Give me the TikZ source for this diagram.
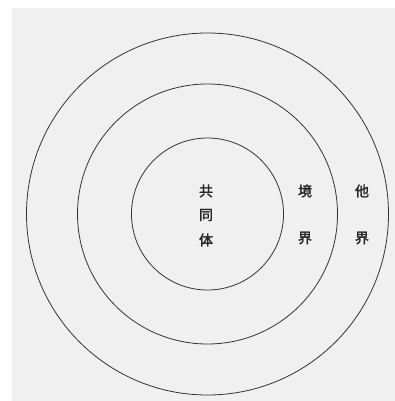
\documentclass[tikz,border=0pt]{standalone}
\usepackage{fontspec}
\newfontfamily\cjk{Noto Sans CJK JP}[FakeBold=2]
\begin{document}
\begin{tikzpicture}[x=1pt,y=-1pt,
  ring/.style={draw=black!80,line width=0.8pt},
  lbl/.style={font=\cjk\fontsize{14}{14}\selectfont,text=black!85,inner sep=0pt}]
\useasboundingbox (0,0) rectangle (395,401);
\fill[white] (0,0) rectangle (395,401);
\fill[black!6] (12,8) rectangle (395,401);
\coordinate (c) at (207.5,214);
\draw[ring] (c) circle[radius=181];
\draw[ring] (c) circle[radius=130];
\draw[ring] (c) circle[radius=76];
\node[lbl] (k1) at (206,191) {共};
\node[lbl] (k2) at (206,215) {同};
\node[lbl] (k3) at (206,240) {体};
\node[lbl] (b1) at (305,191) {境};
\node[lbl] (b2) at (305,238) {界};
\node[lbl] (t1) at (362,191) {他};
\node[lbl] (t2) at (362,238) {界};
\end{tikzpicture}
\end{document}
